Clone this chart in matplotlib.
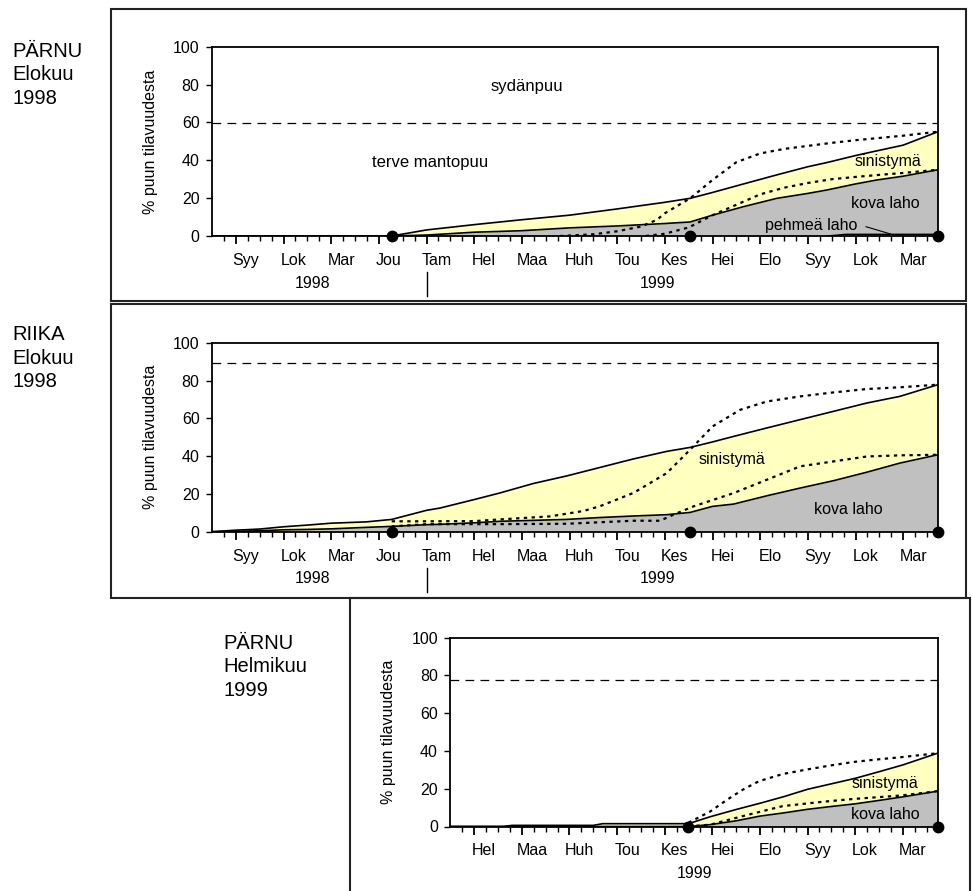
import matplotlib
matplotlib.use("Agg")
import matplotlib.pyplot as plt
from matplotlib.patches import Rectangle

plt.rcParams['font.family'] = ['Liberation Sans', 'DejaVu Sans']

# months: 0 = Syyskuu 1998 ... 14 = Marraskuu 1999
month_names = ["Syy", "Lok", "Mar", "Jou", "Tam", "Hel", "Maa", "Huh",
               "Tou", "Kes", "Hei", "Elo", "Syy", "Lok", "Mar"]
year_labels = ["1998", "1999"]

# --- PÄRNU, Elokuu 1998 ---
p1_x = [-0.5, 3.27, 4.0, 5.0, 6.0, 7.0, 8.0, 9.0, 9.53, 10.0, 10.65, 11.35,
        12.0, 12.4, 13.0, 13.45, 14.0, 14.73]
p1_total = [0, 0, 3.2, 6.0, 8.6, 11.0, 14.3, 17.8, 19.9, 23.0, 27.5, 32.3,
            36.6, 38.8, 42.5, 45.0, 48.0, 55.1]
p1_laho = [0, 0, 0.5, 2.0, 2.8, 4.3, 5.3, 6.6, 7.4, 11.0, 15.5, 19.9,
           22.5, 24.3, 27.5, 29.6, 31.6, 35.0]
p1_dot_hi_x = [6.8, 7.5, 8.0, 8.5, 8.83, 9.0, 9.53, 10.0, 10.5, 11.0, 11.5,
               12.0, 12.5, 13.0, 13.5, 14.0, 14.73]
p1_dot_hi = [0, 0.9, 2.5, 5.0, 8.5, 12.0, 19.9, 29.6, 39.0, 43.6, 46.0,
             47.6, 49.2, 50.6, 51.8, 53.0, 55.1]
p1_dot_lo_x = [8.6, 9.0, 9.5, 10.0, 10.5, 11.0, 11.5, 12.0, 12.5, 13.0,
               13.5, 14.0, 14.73]
p1_dot_lo = [0, 1.2, 4.5, 11.0, 16.5, 22.0, 25.5, 28.0, 30.0, 31.2, 32.3,
             33.3, 35.0]
p1_pehmea_x = [12.4, 12.8, 14.73]
p1_pehmea = [0, 0.9, 0.9]
p1_heart = 59.5
p1_samples = [3.27, 9.53, 14.73]

# --- RIIKA, Elokuu 1998 ---
p2_x = [-0.5, 0.0, 0.5, 1.0, 1.5, 2.0, 2.74, 3.27, 4.0, 4.28, 5.0, 5.54,
        6.24, 6.94, 7.64, 8.34, 9.04, 9.53, 10.0, 10.44, 11.14, 11.84,
        12.54, 13.24, 13.93, 14.73]
p2_total = [0, 0.8, 1.4, 2.6, 3.5, 4.5, 5.2, 6.5, 11.3, 12.5, 17.0, 20.5,
            25.5, 29.5, 34.0, 38.5, 42.5, 44.6, 47.5, 50.4, 54.9, 59.3,
            63.7, 68.1, 71.6, 77.8]
p2_laho = [0, 0.2, 0.5, 1.0, 1.2, 1.5, 2.3, 2.8, 3.7, 3.9, 4.7, 5.5,
           6.0, 6.5, 7.5, 8.3, 9.0, 10.2, 13.4, 14.6, 19.0, 23.1,
           27.0, 31.5, 36.3, 40.7]
p2_dot_hi_x = [3.27, 4.0, 5.0, 5.54, 6.59, 7.3, 7.64, 8.34, 9.04, 9.53,
               10.0, 10.58, 11.14, 11.84, 12.54, 13.24, 13.93, 14.73]
p2_dot_hi = [5.5, 5.5, 5.6, 6.5, 8.1, 11.0, 13.5, 20.5, 31.0, 43.4,
             55.7, 64.5, 68.9, 71.6, 73.7, 75.5, 76.4, 77.8]
p2_dot_lo_x = [3.27, 4.0, 5.54, 6.94, 8.34, 8.9, 9.18, 9.6, 10.44, 11.14,
               11.84, 12.54, 13.24, 13.93, 14.73]
p2_dot_lo = [2.8, 4.0, 4.0, 4.2, 5.8, 5.8, 9.0, 13.4, 20.4, 27.5,
             34.6, 37.2, 39.8, 40.4, 40.7]
p2_heart = 89.5
p2_samples = [3.27, 9.53, 14.73]

# --- PÄRNU, Helmikuu 1999 ---
p3_x = [4.5, 5.6, 5.8, 7.5, 7.7, 9.5, 9.96, 10.5, 11.0, 11.5, 12.0, 12.5,
        13.0, 13.5, 14.0, 14.73]
p3_total = [0, 0, 0.6, 0.6, 1.5, 1.5, 5.2, 9.0, 12.3, 15.8, 19.7, 22.6,
            25.5, 29.0, 32.6, 38.8]
p3_laho = [0, 0, 0, 0, 0, 0, 1.0, 3.0, 5.5, 7.2, 9.1, 10.6,
           12.0, 13.8, 15.7, 18.7]
p3_dot_hi_x = [9.5, 9.96, 10.3, 10.64, 10.98, 11.48, 11.99, 12.5, 12.97,
               13.5, 13.96, 14.73]
p3_dot_hi = [2.0, 8.0, 14.0, 19.5, 24.0, 27.8, 30.2, 32.4, 34.2, 35.6,
             36.7, 38.8]
p3_dot_lo_x = [9.5, 9.96, 10.64, 11.48, 12.32, 12.97, 13.96, 14.73]
p3_dot_lo = [0, 1.0, 5.5, 10.8, 13.1, 14.6, 16.4, 18.7]
p3_heart = 77.5
p3_samples = [9.5, 14.73]

W, H = 972, 891
YELLOW = '#FFFFC0'
GRAY = '#C0C0C0'
FS = 11.5

fig = plt.figure(figsize=(W / 100, H / 100), dpi=100)


def frame(x0, y0, x1, y1):
    fig.patches.append(Rectangle((x0 / W, 1 - y1 / H), (x1 - x0) / W, (y1 - y0) / H,
                                 transform=fig.transFigure, fill=False,
                                 ec='#222222', lw=1.5))


def panel(left, top, right, bottom, xlim, x, total, laho, hx, hy, lx, ly,
          heart, samples, first_month):
    ax = fig.add_axes([left / W, 1 - bottom / H, (right - left) / W, (bottom - top) / H])
    ax.fill_between(x, 0, laho, color=GRAY, lw=0)
    ax.fill_between(x, laho, total, color=YELLOW, lw=0)
    ax.plot(x, laho, color='k', lw=1.2)
    ax.plot(x, total, color='k', lw=1.2)
    ax.plot(hx, hy, color='k', lw=1.6, ls=(0, (1.5, 2.0)))
    ax.plot(lx, ly, color='k', lw=1.6, ls=(0, (1.5, 2.0)))
    ax.axhline(heart, color='k', lw=0.9, ls=(0, (7, 5)))
    ax.plot(samples, [0] * len(samples), 'o', color='k', ms=7.5,
            clip_on=False, zorder=6)
    ax.set_xlim(xlim)
    ax.set_ylim(0, 100)
    ax.set_yticks(range(0, 101, 20))
    majors = [m for m in range(first_month, 15)]
    ax.set_xticks(majors)
    ax.set_xticks([xlim[0] + 0.25 * i for i in range(1, int((xlim[1] - xlim[0]) * 4) + 1)],
                  minor=True)
    ax.set_xticklabels([])
    ax.tick_params(axis='y', direction='out', length=4, width=1, labelsize=FS, pad=5)
    ax.tick_params(axis='x', which='major', direction='out', length=6, width=1.3)
    ax.tick_params(axis='x', which='minor', direction='out', length=3.5, width=1)
    for s in ax.spines.values():
        s.set_linewidth(1.3)
    for m in majors:
        ax.annotate(month_names[m], (m + 0.21, 0), xycoords=('data', 'axes fraction'),
                    xytext=(0, -17.5), textcoords='offset points',
                    ha='center', va='center', fontsize=FS)
    w = right - left
    ax.text(-62 / w, 0.5, '% puun tilavuudesta', transform=ax.transAxes,
            rotation=90, ha='center', va='center', fontsize=FS)
    return ax


frame(111, 9, 966, 301)
frame(111, 304, 966, 598)
frame(350, 598, 970, 960)

ax1 = panel(212, 46.7, 938, 236, (-0.5, 14.73), p1_x, p1_total, p1_laho,
            p1_dot_hi_x, p1_dot_hi, p1_dot_lo_x, p1_dot_lo, p1_heart, p1_samples, 0)
ax1.plot(p1_pehmea_x, p1_pehmea, color='k', lw=1)
ax1.plot([13.22, 13.73], [4.9, 1.1], color='k', lw=0.8)
ax1.text(6.11, 79.2, 'sydänpuu', ha='center', va='center', fontsize=12)
ax1.text(4.07, 38.6, 'terve mantopuu', ha='center', va='center', fontsize=12)
ax1.text(13.68, 39.6, 'sinistymä', ha='center', va='center', fontsize=FS)
ax1.text(13.62, 17.3, 'kova laho', ha='center', va='center', fontsize=FS)
ax1.text(12.06, 5.8, 'pehmeä laho', ha='center', va='center', fontsize=FS)

ax2 = panel(212, 342.7, 938, 531.7, (-0.5, 14.73), p2_x, p2_total, p2_laho,
            p2_dot_hi_x, p2_dot_hi, p2_dot_lo_x, p2_dot_lo, p2_heart, p2_samples, 0)
ax2.text(10.4, 38.1, 'sinistymä', ha='center', va='center', fontsize=FS)
ax2.text(12.84, 12, 'kova laho', ha='center', va='center', fontsize=FS)

for ax in (ax1, ax2):
    ax.annotate(year_labels[0], (1.6, 0), xycoords=('data', 'axes fraction'),
                xytext=(0, -34), textcoords='offset points', ha='center', va='center', fontsize=FS)
    ax.annotate(year_labels[1], (8.84, 0), xycoords=('data', 'axes fraction'),
                xytext=(0, -34), textcoords='offset points', ha='center', va='center', fontsize=FS)
    ax.plot([4, 4], [-36 / 189, -60 / 189], transform=ax.get_xaxis_transform(),
            color='k', lw=1, clip_on=False)

ax3 = panel(450.4, 637.7, 937.5, 826.5, (4.5, 14.73), p3_x, p3_total, p3_laho,
            p3_dot_hi_x, p3_dot_hi, p3_dot_lo_x, p3_dot_lo, p3_heart, p3_samples, 5)
ax3.text(13.63, 23, 'sinistymä', ha='center', va='center', fontsize=FS)
ax3.text(13.63, 6.3, 'kova laho', ha='center', va='center', fontsize=FS)
ax3.annotate(year_labels[1], (9.63, 0), xycoords=('data', 'axes fraction'),
             xytext=(0, -33.5), textcoords='offset points', ha='center', va='center', fontsize=FS)

fig.text(12 / W, 1 - 75 / H, 'PÄRNU\nElokuu\n1998', ha='left', va='center',
         fontsize=14.5, linespacing=1.32)
fig.text(12 / W, 1 - 358 / H, 'RIIKA\nElokuu\n1998', ha='left', va='center',
         fontsize=14.5, linespacing=1.32)
fig.text(223 / W, 1 - 667 / H, 'PÄRNU\nHelmikuu\n1999', ha='left', va='center',
         fontsize=14.5, linespacing=1.32)

fig.savefig('out.png', dpi=100)
